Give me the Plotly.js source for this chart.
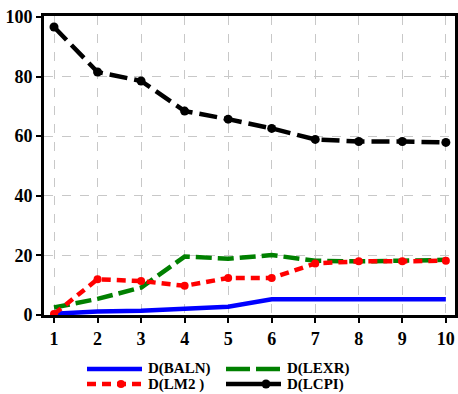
<!DOCTYPE html>
<html><head><meta charset="utf-8">
<script src="https://cdn.plot.ly/plotly-3.0.1.min.js"></script>
<style>body{margin:0;background:#fff}#chart{width:458px;height:394px}</style>
</head><body><div id="chart"></div>
<script>
const periods = [1,2,3,4,5,6,7,8,9,10];
const baln = [0.4,1.2,1.4,2.0,2.8,5.3,5.3,5.3,5.3,5.3];
const lexr = [2.5,5.4,9.2,19.6,18.9,20.1,18.2,18.0,18.2,18.5];
const lm2  = [0.3,12.0,11.4,9.8,12.4,12.4,17.3,18.0,18.0,18.2];
const lcpi = [96.6,81.5,78.5,68.4,65.7,62.6,58.9,58.2,58.2,57.9];
const names = ['D(BALN)','D(LEXR)','D(LM2 )','D(LCPI)'];
const yTicks = [0,20,40,60,80,100];

const FAM = 'Times New Roman, Liberation Serif, serif';
const styles = [
  {color:'#0000ff',dash:'solid',legDash:'solid',marker:false},
  {color:'#008000',dash:'16px,6px',legDash:'24px,6px',marker:false},
  {color:'#ff0000',dash:'9px,6px',legDash:'9px,6px',marker:true,msize:8},
  {color:'#000000',dash:'18px,7px',legDash:'36px,7px',marker:true,msize:9}
];
const series = [baln,lexr,lm2,lcpi];
const traces = series.map((s,i)=>({
  x:periods,y:s,name:names[i],showlegend:false,
  mode:styles[i].marker?'lines+markers':'lines',
  line:{color:styles[i].color,width:4.5,dash:styles[i].dash},
  marker:{symbol:'circle',size:styles[i].msize||6,color:styles[i].color}
}));

// manual legend (paper coords): plot area left=44px, width=411, bottom=315px, height=299
const W=411,H=299,L=44,B=315;
const px=x=>(x-L)/W, py=y=>(B-y)/H;
const legPos = [[87,369],[226,369],[87,384],[226,384]];
const shapes=[], annotations=[];
legPos.forEach((p,i)=>{
  const st=styles[i];
  shapes.push({type:'line',xref:'paper',yref:'paper',x0:px(p[0]),x1:px(p[0]+55),y0:py(p[1]),y1:py(p[1]),
    line:{color:st.color,width:4.5,dash:st.legDash}});
  if(st.marker){
    const cx=px(p[0]+(i===3?40:34)), cy=py(p[1]), r=(st.msize)/2;
    shapes.push({type:'circle',xref:'paper',yref:'paper',xsizemode:'pixel',ysizemode:'pixel',xanchor:cx,yanchor:cy,
      x0:-r,x1:r,y0:-r,y1:r,fillcolor:st.color,line:{color:st.color,width:0}});
  }
  annotations.push({xref:'paper',yref:'paper',x:px(p[0]+60),y:py(p[1]),xanchor:'left',yanchor:'middle',showarrow:false,
    text:names[i],borderpad:0,font:{family:FAM,size:15,color:'#000',weight:'bold'}});
});

const tf={family:FAM,size:18,color:'#000',weight:'bold'};
const layout = {
  width:458,height:394,
  margin:{l:44,r:3,t:16,b:79},
  paper_bgcolor:'#fff',plot_bgcolor:'#fff',
  font:{family:FAM,size:15,color:'#000'},
  showlegend:false,
  shapes:shapes,annotations:annotations,
  xaxis:{range:[0.77,10.21],tickvals:periods,ticktext:periods.map(String),showline:true,linewidth:3,linecolor:'#000',mirror:true,
    ticks:'outside',ticklen:5,tickwidth:2,tickcolor:'#000',showgrid:true,gridcolor:'#c8c8c8',griddash:'dash',gridwidth:1,zeroline:false,
    tickfont:tf},
  yaxis:{range:[0,100.3],tickvals:yTicks,showline:true,linewidth:3,linecolor:'#000',mirror:true,
    ticks:'outside',ticklen:5,tickwidth:2,tickcolor:'#000',showgrid:true,gridcolor:'#c8c8c8',griddash:'dash',gridwidth:1,zeroline:false,
    tickfont:tf}
};
Plotly.newPlot('chart',traces,layout,{displayModeBar:false,staticPlot:true});
</script></body></html>
